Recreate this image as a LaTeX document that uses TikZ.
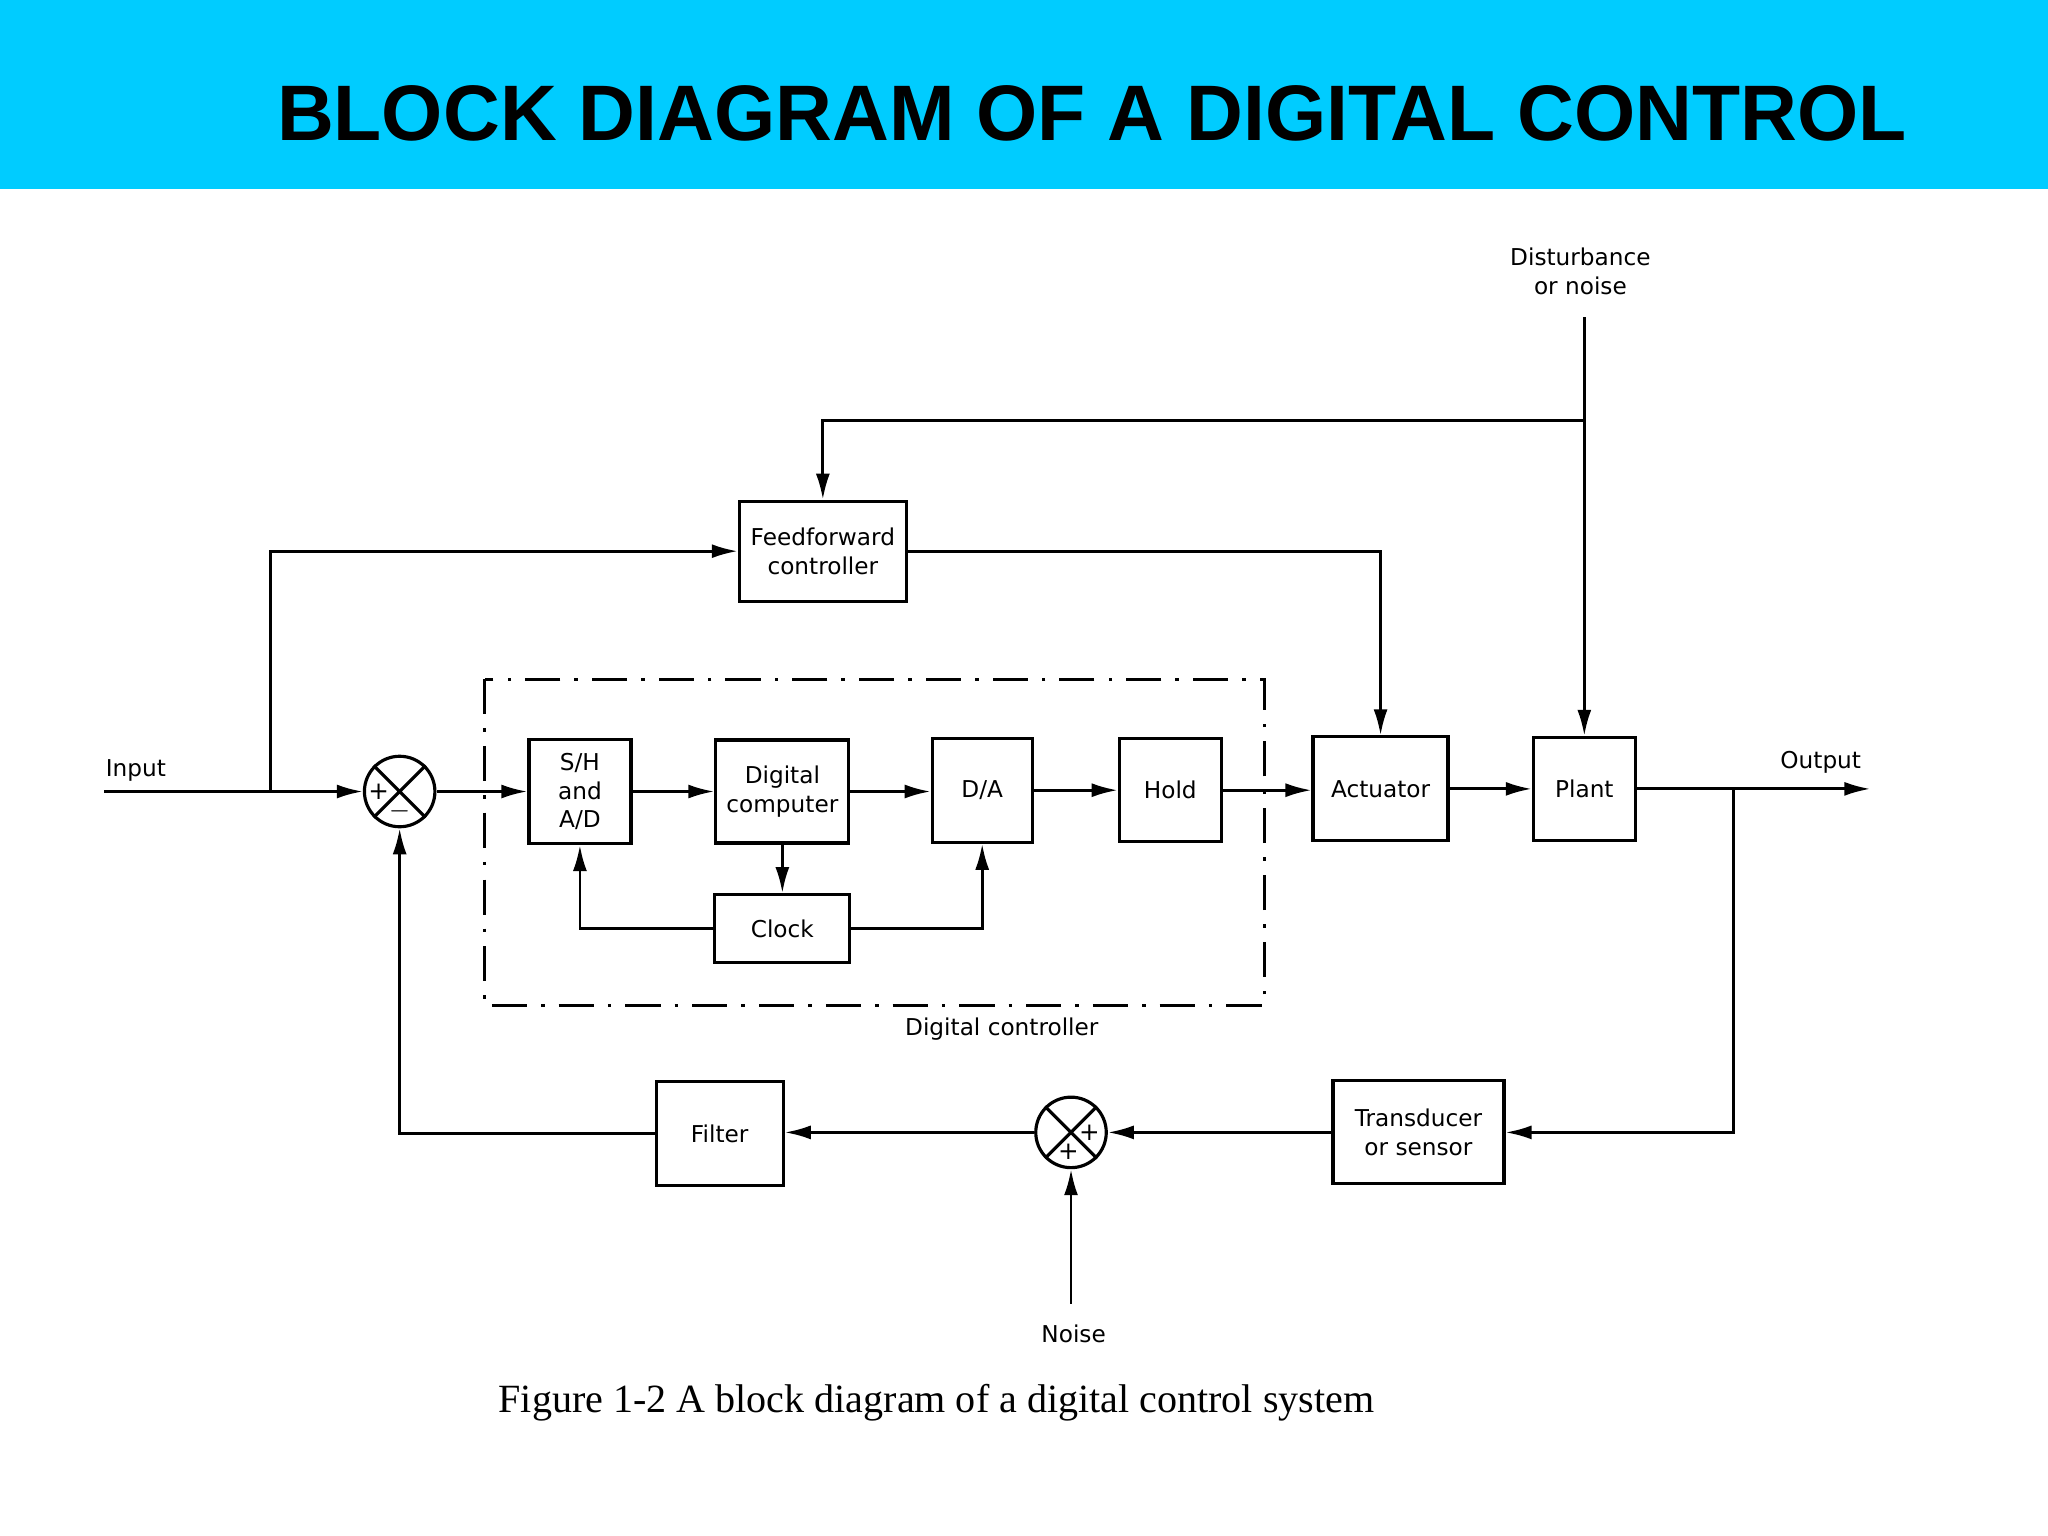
\documentclass[tikz,border=0pt]{standalone}
\usepackage{fontspec}
\setmainfont{DejaVu Sans}
\newfontfamily\titlefont{Liberation Sans}
\newfontfamily\capfont{Liberation Serif}
\usetikzlibrary{arrows.meta}
\begin{document}
\begin{tikzpicture}[x=0.01306cm,y=-0.01306cm,
  line width=0.8pt,
  blk/.style={draw,line width=0.9pt,font=\fontsize{6.6}{8.2}\selectfont,align=center,inner sep=0},
  lbl/.style={font=\fontsize{6.6}{8.2}\selectfont,align=center},
  sum/.style={draw,circle,line width=0.9pt,minimum size=0.705cm,inner sep=0},
  arr/.style={-{Latex[length=2.6mm,width=1.4mm]}}]
\useasboundingbox (0,0) rectangle (1568,1176);
\fill[fill={rgb,255:red,0;green,204;blue,255}] (0,0) rectangle (1568,145);
\node (title) at (836,87) {\titlefont\bfseries\fontsize{22.4}{26}\selectfont BLOCK DIAGRAM OF A DIGITAL CONTROL};
% boxes
\node[blk,minimum width=1.67cm,minimum height=1.0cm] (ff) at (630,422) {Feedforward\\controller};
\node[blk,minimum width=1.02cm,minimum height=1.04cm] (sh) at (444,606) {S/H\\and\\A/D};
\node[blk,minimum width=1.33cm,minimum height=1.03cm] (dc) at (599,606) {Digital\\computer};
\node[blk,minimum width=1.0cm,minimum height=1.04cm] (da) at (752,605) {D/A};
\node[blk,minimum width=1.02cm,minimum height=1.03cm] (hold) at (896,605) {Hold};
\node[blk,minimum width=1.35cm,minimum height=0.68cm] (clk) at (599,711) {Clock};
\node[blk,minimum width=1.35cm,minimum height=1.04cm] (act) at (1057,604) {Actuator};
\node[blk,minimum width=1.02cm,minimum height=1.03cm] (plant) at (1213,604) {Plant};
\node[blk,minimum width=1.71cm,minimum height=1.03cm] (tr) at (1086,867) {Transducer\\or sensor};
\node[blk,minimum width=1.27cm,minimum height=1.04cm] (filt) at (551,868) {Filter};
\node[sum] (s1) at (306,606) {};
\node[sum] (s2) at (820,867) {};
\draw[line width=0.9pt] (s1.45)--(s1.225) (s1.135)--(s1.315);
\draw[line width=0.9pt] (s2.45)--(s2.225) (s2.135)--(s2.315);
\node[font=\fontsize{7}{8}\selectfont] at (290,606) {+};
\node[font=\fontsize{7}{8}\selectfont] at (306,621) {$-$};
\node[font=\fontsize{7}{8}\selectfont] at (834,867) {+};
\node[font=\fontsize{7}{8}\selectfont] at (818,882) {+};
% dashed box
\draw[line width=0.8pt,dash pattern=on 10pt off 4pt on 1pt off 4pt] (371,520) rectangle (968,770);
% labels
\node[lbl] (in) at (104,590) {Input};
\node[lbl] (out) at (1394,584) {Output};
\node[lbl] (dist) at (1210,208) {Disturbance\\or noise};
\node[lbl] (dcl) at (767,788) {Digital controller};
\node[lbl] (noise) at (822,1021) {Noise};
\node (cap) at (717,1074) {\capfont\fontsize{11.4}{13}\selectfont Figure 1-2 A block diagram of a digital control system};
% coordinates
\coordinate (inS) at (80,606);
\coordinate (br) at (207,606);
\coordinate (outE) at (1432,604);
\coordinate (obr) at (1327,604);
\coordinate (dtop) at (1213,243);
\coordinate (nb) at (820,998);
% connectors
\draw[arr] (inS) -- (s1.west);
\draw[arr] (br) |- (ff.west);
\draw[arr] (s1.east) -- (sh.west);
\draw[arr] (sh.east) -- (dc.west);
\draw[arr] (dc.east) -- (da.west |- dc.east);
\draw[arr] (da.east) -- (hold.west);
\draw[arr] (hold.east) -- (act.west |- hold.east);
\draw[arr] (act.east) -- (plant.west);
\draw[arr] (plant.east) -- (outE);
\draw[arr] (dc.south) -- (clk.north);
\draw[arr] (clk.west) -| (sh.south);
\draw[arr] (clk.east) -| (da.south);
\draw[arr] (ff.east) -| (act.north);
\draw[arr] (dtop) -- (plant.north);
\draw[arr] (1213,322) -| (ff.north);
\draw[arr] (obr) |- (tr.east);
\draw[arr] (tr.west) -- (s2.east);
\draw[arr] (s2.west) -- (filt.east |- s2.west);
\draw[arr] (filt.west) -| (s1.south);
\draw[arr] (nb) -- (s2.south);
\end{tikzpicture}
\end{document}
